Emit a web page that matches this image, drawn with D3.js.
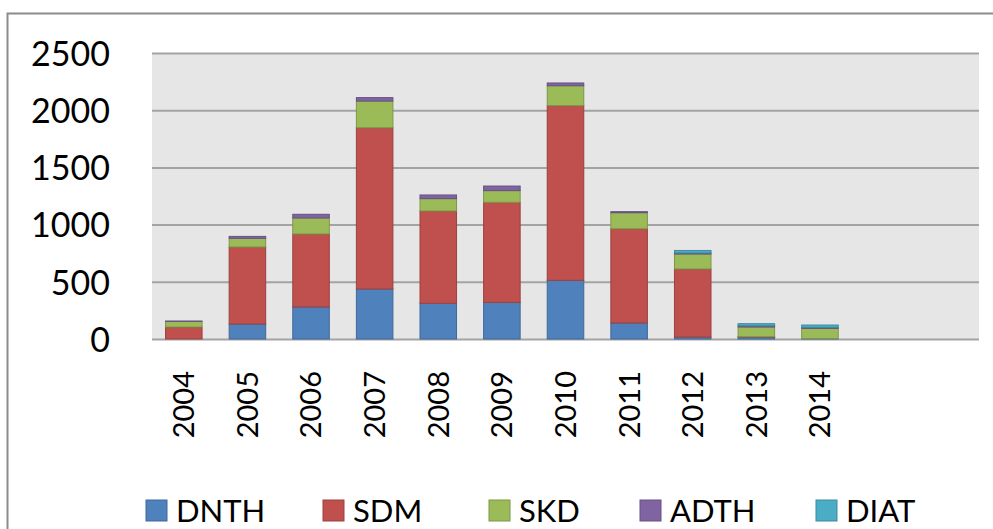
<!DOCTYPE html>
<html>
<head>
<meta charset="utf-8">
<script src="https://cdn.jsdelivr.net/npm/d3@7"></script>
<style>
    body { margin: 0; background: #fff; }
    svg { display: block; font-family: Lato, "Open Sans", sans-serif; }
</style>
</head>
<body>
<div id="chart"></div>
<script>
// years on the x axis (the axis keeps two more empty slots on the right)
const years = ["2004", "2005", "2006", "2007", "2008", "2009", "2010", "2011", "2012", "2013", "2014"];
const emptySlots = 2;

const seriesNames = ["DNTH", "SDM", "SKD", "ADTH", "DIAT"];
const seriesColors = ["#4f81bd", "#c0504d", "#9bbb59", "#8064a2", "#4bacc6"];

const DNTH = [0, 131, 280, 437, 312, 320, 513, 140, 17, 17, 3];
const SDM  = [105, 673, 638, 1410, 807, 875, 1527, 824, 595, 3, 0];
const SKD  = [49, 76, 140, 233, 108, 102, 174, 140, 131, 85, 90];
const ADTH = [3, 17, 32, 30, 32, 40, 24, 9, 9, 11, 8];
const DIAT = [0, 0, 0, 0, 0, 0, 0, 0, 22, 18, 21];

const yTicks = [0, 500, 1000, 1500, 2000, 2500];

const width = 993, height = 529;
const plot = {left: 152, right: 979, top: 53, bottom: 339};

const svg = d3.select("#chart").append("svg")
    .attr("width", width)
    .attr("height", height);

// outer chart frame, runs off the right and bottom edges
svg.append("rect")
    .attr("x", 7.5).attr("y", 13.5)
    .attr("width", 1000).attr("height", 540)
    .attr("fill", "#fff")
    .attr("stroke", "#8c8c8c")
    .attr("stroke-width", 2);

const slots = d3.range(years.length + emptySlots);
const x = d3.scaleBand()
    .domain(slots)
    .range([plot.left, plot.right])
    .paddingInner(0.41)
    .paddingOuter(0.205);

const y = d3.scaleLinear()
    .domain([0, 2500])
    .range([plot.bottom, plot.top]);

// plot background
svg.append("rect")
    .attr("x", plot.left).attr("y", plot.top)
    .attr("width", plot.right - plot.left)
    .attr("height", plot.bottom - plot.top)
    .attr("fill", "#e6e6e6");

// gridlines + y labels via the axis
const yAxis = svg.append("g")
    .attr("transform", `translate(${plot.left},0)`)
    .call(d3.axisLeft(y)
        .tickValues(yTicks)
        .tickFormat(d3.format("d"))
        .tickSize(-(plot.right - plot.left))
        .tickPadding(42));
yAxis.select(".domain").remove();
yAxis.selectAll(".tick line")
    .attr("stroke", "#a3a3a3")
    .attr("stroke-width", 2);
yAxis.selectAll(".tick text")
    .attr("fill", "#000")
    .attr("font-size", 34)
    .attr("font-family", "Lato, sans-serif")
    .attr("dy", "0.36em");

// stacked bars
const rows = years.map((yr, i) => ({
    idx: i, DNTH: DNTH[i], SDM: SDM[i], SKD: SKD[i], ADTH: ADTH[i], DIAT: DIAT[i]
}));
const stacked = d3.stack().keys(seriesNames)(rows);

svg.append("g").selectAll("g")
    .data(stacked)
    .enter().append("g")
    .attr("fill", (d, i) => seriesColors[i])
    .attr("stroke", (d, i) => d3.color(seriesColors[i]).darker(0.6))
    .attr("stroke-width", 1)
    .selectAll("rect")
    .data(d => d.filter(s => s[1] - s[0] > 0))
    .enter().append("rect")
    .attr("x", d => x(d.data.idx) + 0.5)
    .attr("width", x.bandwidth() - 1)
    .attr("y", d => y(d[1]))
    .attr("height", d => y(d[0]) - y(d[1]));

// x labels, rotated
const xAxis = svg.append("g")
    .attr("transform", `translate(0,${plot.bottom})`)
    .call(d3.axisBottom(x).tickSize(0).tickFormat(i => years[i] || ""));
xAxis.select(".domain").remove();
xAxis.selectAll(".tick text")
    .attr("fill", "#000")
    .attr("font-size", 29)
    .attr("font-family", "Lato, sans-serif")
    .attr("text-anchor", "end")
    .attr("transform", "rotate(-90)")
    .attr("x", -32)
    .attr("y", 0)
    .attr("dy", "0.36em");

// legend
const legendX = [146, 323, 489, 640, 816];
const legend = svg.append("g").selectAll("g")
    .data(seriesNames)
    .enter().append("g")
    .attr("transform", (d, i) => `translate(${legendX[i]},500)`);
legend.append("rect")
    .attr("width", 21).attr("height", 21)
    .attr("fill", (d, i) => seriesColors[i])
    .attr("stroke", (d, i) => d3.color(seriesColors[i]).darker(0.6))
    .attr("stroke-width", 1);
legend.append("text")
    .attr("x", 30)
    .attr("y", 22)
    .attr("font-size", 31)
    .attr("font-family", "Lato, sans-serif")
    .attr("fill", "#000")
    .text(d => d);
</script>
</body>
</html>
